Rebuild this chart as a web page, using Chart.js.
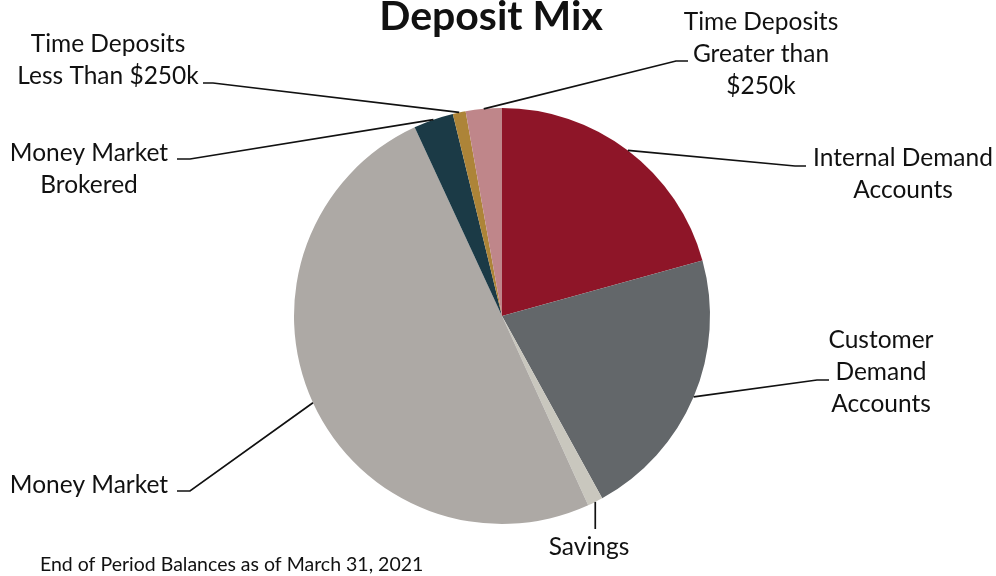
<!DOCTYPE html>
<html>
<head>
<meta charset="utf-8">
<script src="https://cdn.jsdelivr.net/npm/chart.js@4"></script>
<style>
  html, body { margin: 0; padding: 0; background: #fff; }
  #wrap { position: relative; width: 996px; height: 576px; }
</style>
</head>
<body>
<div id="wrap"><canvas id="c" width="996" height="576"></canvas></div>
<script>
// Deposit categories, clockwise from 12 o'clock
const categories = [
  'Internal Demand Accounts',
  'Customer Demand Accounts',
  'Savings',
  'Money Market',
  'Money Market Brokered',
  'Time Deposits Less Than $250k',
  'Time Deposits Greater than $250k'
];
// Share of end-of-period balances (%)
const shares = [20.7, 21.3, 1.2, 49.9, 3.1, 1.0, 2.8];

const sliceColors = ['#8E1528', '#63676A', '#C9C7BE', '#ADA9A5', '#1B3A46', '#AD8438', '#BF868A'];

// Callout text lines and leader geometry for each slice
const callouts = [
  { lines: ['Internal Demand', 'Accounts'], knee: [795, 166], end: 806, tx: 903, ty: [158, 190] },
  { lines: ['Customer', 'Demand', 'Accounts'], knee: [817, 380], end: 829, tx: 881, ty: [340, 372, 404] },
  { lines: ['Savings'], knee: null, vertical: 529, tx: 589, ty: [547] },
  { lines: ['Money Market'], knee: [190, 491], end: 177, tx: 89, ty: [485] },
  { lines: ['Money Market', 'Brokered'], knee: [190, 159], end: 177, tx: 89, ty: [153, 185] },
  { lines: ['Time Deposits', 'Less Than $250k'], knee: [213, 83], end: 203, tx: 108, ty: [44, 76] },
  { lines: ['Time Deposits', 'Greater than', '$250k'], knee: [676, 61], end: 688, tx: 761, ty: [22, 54, 86] }
];

const LABEL_FONT = '24.5px Lato, "Open Sans", sans-serif';

const calloutPlugin = {
  id: 'callouts',
  afterDraw(chart) {
    const ctx = chart.ctx;
    const meta = chart.getDatasetMeta(0);
    ctx.save();
    // leader lines
    ctx.strokeStyle = '#111';
    ctx.lineWidth = 1.7;
    meta.data.forEach((arc, i) => {
      const c = callouts[i];
      const p = arc.getProps(['x', 'y', 'startAngle', 'endAngle', 'outerRadius'], true);
      const mid = (p.startAngle + p.endAngle) / 2;
      const ax = p.x + Math.cos(mid) * p.outerRadius;
      const ay = p.y + Math.sin(mid) * p.outerRadius;
      ctx.beginPath();
      ctx.moveTo(ax, ay);
      if (c.knee) {
        ctx.lineTo(c.knee[0], c.knee[1]);
        ctx.lineTo(c.end, c.knee[1]);
      } else {
        ctx.lineTo(ax, c.vertical);
      }
      ctx.stroke();
    });
    // label text
    ctx.fillStyle = '#111';
    ctx.font = LABEL_FONT;
    ctx.textAlign = 'center';
    ctx.textBaseline = 'middle';
    callouts.forEach(c => {
      c.lines.forEach((t, j) => ctx.fillText(t, c.tx, c.ty[j]));
    });
    // title
    ctx.font = 'bold 41px Lato, "Open Sans", sans-serif';
    ctx.textBaseline = 'alphabetic';
    ctx.fillText('Deposit Mix', 491, 30);
    // footnote
    ctx.font = '19.5px Lato, "Open Sans", sans-serif';
    ctx.textAlign = 'left';
    ctx.fillText('End of Period Balances as of March 31, 2021', 40, 571);
    ctx.restore();
  }
};

new Chart(document.getElementById('c'), {
  type: 'pie',
  data: {
    labels: categories,
    datasets: [{
      data: shares,
      backgroundColor: sliceColors,
      borderWidth: 0
    }]
  },
  options: {
    responsive: false,
    animation: false,
    layout: { padding: { top: 108, bottom: 52, left: 294, right: 286 } },
    plugins: {
      legend: { display: false },
      tooltip: { enabled: false }
    }
  },
  plugins: [calloutPlugin]
});
</script>
</body>
</html>
